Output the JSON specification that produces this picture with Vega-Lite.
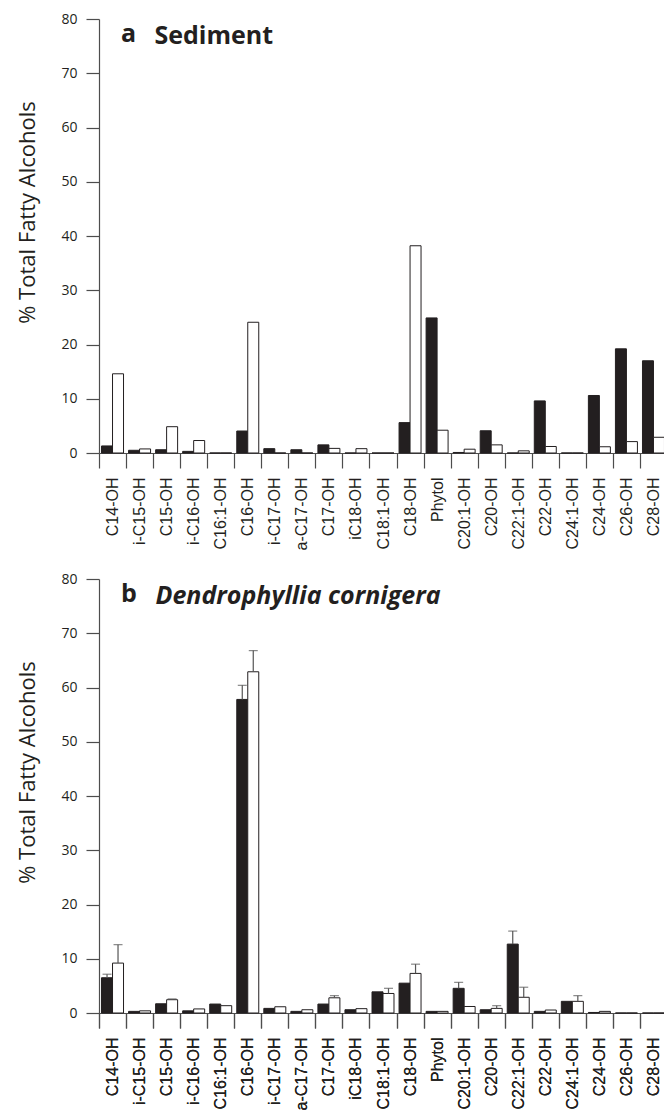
{
  "$schema": "https://vega.github.io/schema/vega-lite/v6.json",
  "padding": {"left": 16, "top": 12, "right": 0, "bottom": 0},
  "spacing": 22,
  "datasets": {
    "a": [
      {"compound": "C14-OH", "group": "black", "value": 1.3},
      {"compound": "C14-OH", "group": "white", "value": 14.6},
      {"compound": "i-C15-OH", "group": "black", "value": 0.5},
      {"compound": "i-C15-OH", "group": "white", "value": 0.75},
      {"compound": "C15-OH", "group": "black", "value": 0.6},
      {"compound": "C15-OH", "group": "white", "value": 4.85},
      {"compound": "i-C16-OH", "group": "black", "value": 0.3},
      {"compound": "i-C16-OH", "group": "white", "value": 2.3},
      {"compound": "C16:1-OH", "group": "black", "value": 0},
      {"compound": "C16:1-OH", "group": "white", "value": 0},
      {"compound": "C16-OH", "group": "black", "value": 4.05},
      {"compound": "C16-OH", "group": "white", "value": 24.1},
      {"compound": "i-C17-OH", "group": "black", "value": 0.8},
      {"compound": "i-C17-OH", "group": "white", "value": 0},
      {"compound": "a-C17-OH", "group": "black", "value": 0.6},
      {"compound": "a-C17-OH", "group": "white", "value": 0},
      {"compound": "C17-OH", "group": "black", "value": 1.5},
      {"compound": "C17-OH", "group": "white", "value": 0.85},
      {"compound": "iC18-OH", "group": "black", "value": 0},
      {"compound": "iC18-OH", "group": "white", "value": 0.8},
      {"compound": "C18:1-OH", "group": "black", "value": 0},
      {"compound": "C18:1-OH", "group": "white", "value": 0},
      {"compound": "C18-OH", "group": "black", "value": 5.6},
      {"compound": "C18-OH", "group": "white", "value": 38.2},
      {"compound": "Phytol", "group": "black", "value": 24.9},
      {"compound": "Phytol", "group": "white", "value": 4.2},
      {"compound": "C20:1-OH", "group": "black", "value": 0.1},
      {"compound": "C20:1-OH", "group": "white", "value": 0.7},
      {"compound": "C20-OH", "group": "black", "value": 4.1},
      {"compound": "C20-OH", "group": "white", "value": 1.5},
      {"compound": "C22:1-OH", "group": "black", "value": 0},
      {"compound": "C22:1-OH", "group": "white", "value": 0.4},
      {"compound": "C22-OH", "group": "black", "value": 9.6},
      {"compound": "C22-OH", "group": "white", "value": 1.2},
      {"compound": "C24:1-OH", "group": "black", "value": 0},
      {"compound": "C24:1-OH", "group": "white", "value": 0},
      {"compound": "C24-OH", "group": "black", "value": 10.6},
      {"compound": "C24-OH", "group": "white", "value": 1.15},
      {"compound": "C26-OH", "group": "black", "value": 19.2},
      {"compound": "C26-OH", "group": "white", "value": 2.1},
      {"compound": "C28-OH", "group": "black", "value": 17.0},
      {"compound": "C28-OH", "group": "white", "value": 2.9}
    ],
    "b": [
      {"compound": "C14-OH", "group": "black", "value": 6.5, "err": 7.15},
      {"compound": "C14-OH", "group": "white", "value": 9.2, "err": 12.6},
      {"compound": "i-C15-OH", "group": "black", "value": 0.3},
      {"compound": "i-C15-OH", "group": "white", "value": 0.4},
      {"compound": "C15-OH", "group": "black", "value": 1.7},
      {"compound": "C15-OH", "group": "white", "value": 2.45, "err": 2.6},
      {"compound": "i-C16-OH", "group": "black", "value": 0.4},
      {"compound": "i-C16-OH", "group": "white", "value": 0.75},
      {"compound": "C16:1-OH", "group": "black", "value": 1.65},
      {"compound": "C16:1-OH", "group": "white", "value": 1.35},
      {"compound": "C16-OH", "group": "black", "value": 57.8, "err": 60.4},
      {"compound": "C16-OH", "group": "white", "value": 62.9, "err": 66.8},
      {"compound": "i-C17-OH", "group": "black", "value": 0.85},
      {"compound": "i-C17-OH", "group": "white", "value": 1.15},
      {"compound": "a-C17-OH", "group": "black", "value": 0.3},
      {"compound": "a-C17-OH", "group": "white", "value": 0.6},
      {"compound": "C17-OH", "group": "black", "value": 1.65},
      {"compound": "C17-OH", "group": "white", "value": 2.8, "err": 3.2},
      {"compound": "iC18-OH", "group": "black", "value": 0.6},
      {"compound": "iC18-OH", "group": "white", "value": 0.8},
      {"compound": "C18:1-OH", "group": "black", "value": 3.9},
      {"compound": "C18:1-OH", "group": "white", "value": 3.6, "err": 4.55},
      {"compound": "C18-OH", "group": "black", "value": 5.5},
      {"compound": "C18-OH", "group": "white", "value": 7.3, "err": 9.0},
      {"compound": "Phytol", "group": "black", "value": 0.3},
      {"compound": "Phytol", "group": "white", "value": 0.3},
      {"compound": "C20:1-OH", "group": "black", "value": 4.55, "err": 5.65},
      {"compound": "C20:1-OH", "group": "white", "value": 1.2},
      {"compound": "C20-OH", "group": "black", "value": 0.6},
      {"compound": "C20-OH", "group": "white", "value": 0.85, "err": 1.35},
      {"compound": "C22:1-OH", "group": "black", "value": 12.7, "err": 15.1},
      {"compound": "C22:1-OH", "group": "white", "value": 2.9, "err": 4.75},
      {"compound": "C22-OH", "group": "black", "value": 0.3},
      {"compound": "C22-OH", "group": "white", "value": 0.55},
      {"compound": "C24:1-OH", "group": "black", "value": 2.15},
      {"compound": "C24:1-OH", "group": "white", "value": 2.15, "err": 3.2},
      {"compound": "C24-OH", "group": "black", "value": 0.1},
      {"compound": "C24-OH", "group": "white", "value": 0.3},
      {"compound": "C26-OH", "group": "black", "value": 0},
      {"compound": "C26-OH", "group": "white", "value": 0},
      {"compound": "C28-OH", "group": "black", "value": 0},
      {"compound": "C28-OH", "group": "white", "value": 0}
    ]
  },
  "vconcat": [
    {
      "width": 568,
      "height": 434,
      "title": {
        "text": "a",
        "anchor": "start",
        "frame": "group",
        "offset": -35,
        "dx": 22,
        "font": "Open Sans",
        "fontSize": 25,
        "fontWeight": "bold",
        "color": "#231f20"
      },
      "data": {"name": "a"},
      "resolve": {"axis": {"x": "independent"}},
      "encoding": {
        "x": {
          "field": "compound", "type": "nominal",
          "sort": ["C14-OH", "i-C15-OH", "C15-OH", "i-C16-OH", "C16:1-OH", "C16-OH", "i-C17-OH", "a-C17-OH", "C17-OH", "iC18-OH", "C18:1-OH", "C18-OH", "Phytol", "C20:1-OH", "C20-OH", "C22:1-OH", "C22-OH", "C24:1-OH", "C24-OH", "C26-OH", "C28-OH"],
          "scale": {"paddingInner": 0, "paddingOuter": 0},
          "axis": {"title": null}
        },
        "xOffset": {
          "field": "group", "type": "nominal", "sort": ["black", "white"],
          "scale": {"paddingInner": 0, "paddingOuter": 0.23}
        }
      },
      "layer": [
        {
          "mark": {"type": "bar", "stroke": "#231f20", "strokeWidth": 1},
          "encoding": {
            "y": {
              "field": "value", "type": "quantitative",
              "scale": {"domain": [0, 80], "nice": false},
              "axis": {"title": "% Total Fatty Alcohols", "values": [0, 10, 20, 30, 40, 50, 60, 70, 80]}
            },
            "fill": {
              "field": "group", "type": "nominal",
              "scale": {"domain": ["black", "white"], "range": ["#231f20", "#ffffff"]},
              "legend": null
            }
          }
        },
        {
          "transform": [{"filter": "isValid(datum.err)"}],
          "mark": {"type": "rule", "color": "#555555", "strokeWidth": 1.2},
          "encoding": {
            "x": {
              "field": "compound", "type": "nominal",
              "sort": ["C14-OH", "i-C15-OH", "C15-OH", "i-C16-OH", "C16:1-OH", "C16-OH", "i-C17-OH", "a-C17-OH", "C17-OH", "iC18-OH", "C18:1-OH", "C18-OH", "Phytol", "C20:1-OH", "C20-OH", "C22:1-OH", "C22-OH", "C24:1-OH", "C24-OH", "C26-OH", "C28-OH"],
              "axis": {
                "orient": "top", "domain": false, "ticks": false, "labels": false,
                "title": "Sediment", "titleX": 55, "titleY": 24, "titleAlign": "left",
                "titleBaseline": "alphabetic", "titleAngle": 0, "titleAnchor": null,
                "titleFont": "Open Sans", "titleFontSize": 25, "titleFontWeight": "bold",
                "titleColor": "#231f20"
              }
            },
            "y": {"field": "value", "type": "quantitative", "axis": {"title": "% Total Fatty Alcohols", "values": [0, 10, 20, 30, 40, 50, 60, 70, 80]}},
            "y2": {"field": "err"}
          }
        }
      ]
    },
    {
      "width": 568,
      "height": 434,
      "title": {
        "text": "b",
        "anchor": "start",
        "frame": "group",
        "offset": -35,
        "dx": 22,
        "font": "Open Sans",
        "fontSize": 25,
        "fontWeight": "bold",
        "color": "#231f20"
      },
      "data": {"name": "b"},
      "resolve": {"axis": {"x": "independent"}},
      "encoding": {
        "x": {
          "field": "compound", "type": "nominal",
          "sort": ["C14-OH", "i-C15-OH", "C15-OH", "i-C16-OH", "C16:1-OH", "C16-OH", "i-C17-OH", "a-C17-OH", "C17-OH", "iC18-OH", "C18:1-OH", "C18-OH", "Phytol", "C20:1-OH", "C20-OH", "C22:1-OH", "C22-OH", "C24:1-OH", "C24-OH", "C26-OH", "C28-OH"],
          "scale": {"paddingInner": 0, "paddingOuter": 0},
          "axis": {"title": null}
        },
        "xOffset": {
          "field": "group", "type": "nominal", "sort": ["black", "white"],
          "scale": {"paddingInner": 0, "paddingOuter": 0.23}
        }
      },
      "layer": [
        {
          "mark": {"type": "bar", "stroke": "#231f20", "strokeWidth": 1},
          "encoding": {
            "y": {
              "field": "value", "type": "quantitative",
              "scale": {"domain": [0, 80], "nice": false},
              "axis": {"title": "% Total Fatty Alcohols", "values": [0, 10, 20, 30, 40, 50, 60, 70, 80]}
            },
            "fill": {
              "field": "group", "type": "nominal",
              "scale": {"domain": ["black", "white"], "range": ["#231f20", "#ffffff"]},
              "legend": null
            }
          }
        },
        {
          "transform": [{"filter": "isValid(datum.err)"}],
          "mark": {"type": "rule", "color": "#555555", "strokeWidth": 1.2},
          "encoding": {
            "x": {
              "field": "compound", "type": "nominal",
              "sort": ["C14-OH", "i-C15-OH", "C15-OH", "i-C16-OH", "C16:1-OH", "C16-OH", "i-C17-OH", "a-C17-OH", "C17-OH", "iC18-OH", "C18:1-OH", "C18-OH", "Phytol", "C20:1-OH", "C20-OH", "C22:1-OH", "C22-OH", "C24:1-OH", "C24-OH", "C26-OH", "C28-OH"],
              "axis": {
                "orient": "top", "domain": false, "ticks": false, "labels": false,
                "title": "Dendrophyllia cornigera", "titleX": 56, "titleY": 24, "titleAlign": "left",
                "titleBaseline": "alphabetic", "titleAngle": 0, "titleAnchor": null,
                "titleFont": "Open Sans", "titleFontSize": 25, "titleFontWeight": "bold",
                "titleFontStyle": "italic", "titleColor": "#231f20"
              }
            },
            "y": {"field": "value", "type": "quantitative", "axis": {"title": "% Total Fatty Alcohols", "values": [0, 10, 20, 30, 40, 50, 60, 70, 80]}},
            "y2": {"field": "err"}
          }
        },
        {
          "transform": [{"filter": "isValid(datum.err)"}],
          "mark": {"type": "tick", "color": "#555555", "thickness": 1.2, "size": 9},
          "encoding": {
            "y": {"field": "err", "type": "quantitative", "axis": {"title": "% Total Fatty Alcohols", "values": [0, 10, 20, 30, 40, 50, 60, 70, 80]}}
          }
        }
      ]
    }
  ],
  "config": {
    "view": {"stroke": null},
    "axis": {"grid": false},
    "axisX": {
      "labelAngle": -90,
      "labelFont": "Liberation Sans",
      "labelFontSize": 16,
      "labelColor": "#231f20",
      "labelPadding": 9,
      "labelOverlap": false,
      "tickBand": "extent",
      "tickSize": 15,
      "tickColor": "#4d4d4d",
      "domainColor": "#4d4d4d",
      "tickWidth": 1.2,
      "domainWidth": 1.2
    },
    "axisY": {
      "labelFont": "Open Sans",
      "labelFontSize": 14,
      "labelColor": "#231f20",
      "labelPadding": 9,
      "tickSize": 13,
      "tickColor": "#4d4d4d",
      "domainColor": "#4d4d4d",
      "tickWidth": 1.2,
      "domainWidth": 1.2,
      "titleFont": "Open Sans",
      "titleFontSize": 22,
      "titleFontWeight": "normal",
      "titleColor": "#231f20",
      "titleX": -65,
      "titleY": 193,
      "titleBaseline": "alphabetic",
      "titleAlign": "center",
      "titleAngle": -90
    }
  }
}
